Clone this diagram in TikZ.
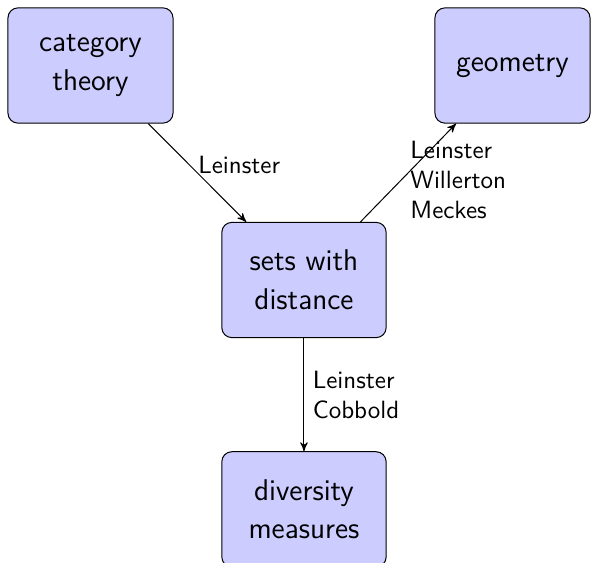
\documentclass[tikz,border=0pt]{standalone}
\usepackage{tikz}
\usetikzlibrary{arrows,shapes,positioning}

\tikzset{
  topic/.style={draw, rounded corners, fill=blue!20, align=center,
    font=\sffamily\fontsize{12}{15.5}\selectfont, minimum height=1.62cm},
  who/.style={font=\sffamily, align=left}
}

\begin{document}
\begin{tikzpicture}[>=stealth']
      \useasboundingbox (0,0) rectangle (8.406,-7.914);

      % the four areas
      \node[topic, minimum width=2.32cm] (cat) at (1.272,-0.921) {category\\theory};
      \node[topic, minimum width=2.18cm] (geo) at (7.204,-0.921) {geometry};
      \node[topic, minimum width=2.31cm] (sets) at (4.273,-3.936) {sets with\\distance};
      \node[topic, minimum width=2.31cm] (div) at (4.273,-7.16) {diversity\\measures};

      % who links them
      \draw[->] (cat) -- node[who, right, pos=0.42] (l1) {Leinster} (sets);
      \draw[->] (sets) -- node[who, right, pos=0.43] (l2) {Leinster\\Willerton\\Meckes} (geo);
      \draw[->] (sets) -- node[who, right] (l3) {Leinster\\Cobbold} (div);
    \end{tikzpicture}
\end{document}
